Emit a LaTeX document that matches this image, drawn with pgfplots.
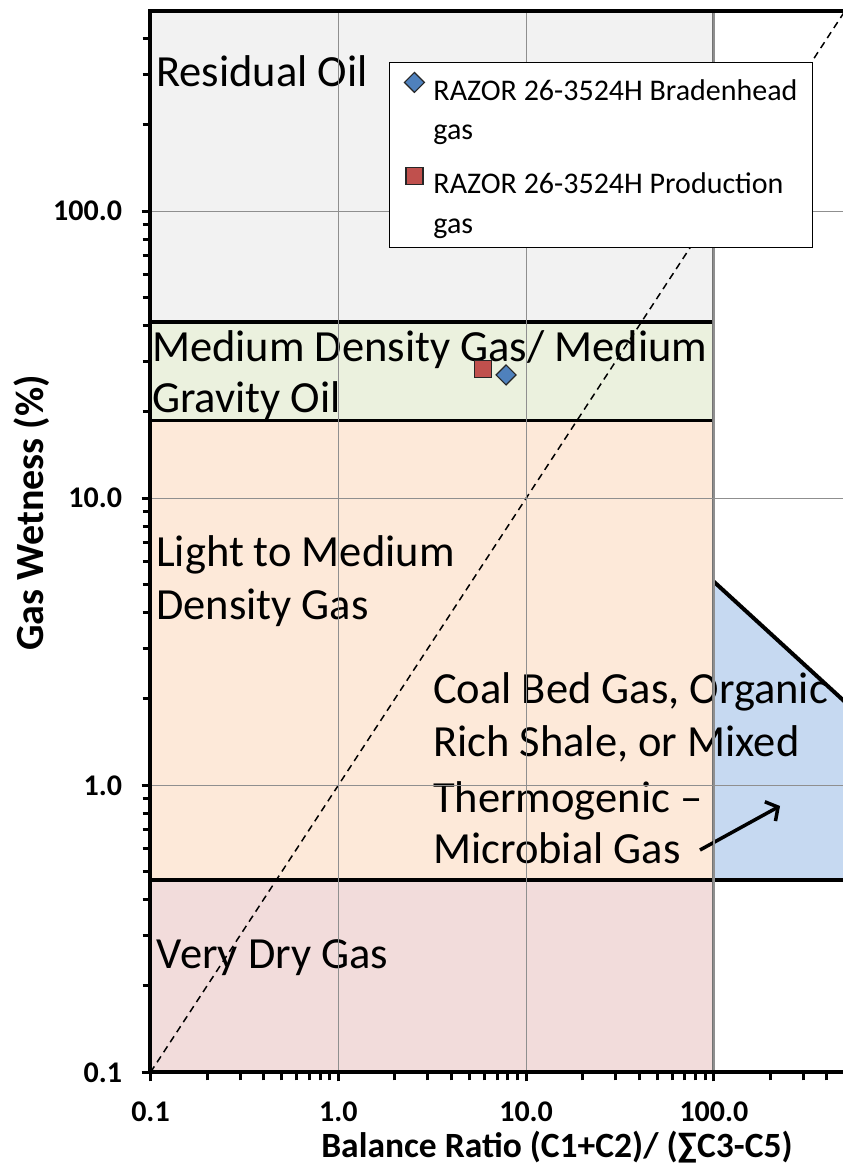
\documentclass[border=0pt]{standalone}
\usepackage{fontspec}
\setmainfont{Carlito}
\usepackage{pgfplots}
\pgfplotsset{compat=1.18}
\usetikzlibrary{arrows.meta}
\definecolor{resid}{HTML}{F2F2F2}
\definecolor{medium}{HTML}{EBF1DE}
\definecolor{lightg}{HTML}{FDE9D9}
\definecolor{dry}{HTML}{F2DCDB}
\definecolor{cbm}{HTML}{C6D9F1}
\definecolor{gridgray}{HTML}{8F8F8F}
\definecolor{bblue}{HTML}{4F81BD}
\definecolor{rred}{HTML}{C0504D}
\pgfplotsset{mylegend/.style={legend image code/.code={\draw[##1] plot coordinates {(0pt,8pt)}; \path[draw=none,fill=none] (0pt,-16pt) -- (0pt,16pt);}}}
\begin{document}
\begin{tikzpicture}
\begin{axis}[
  at={(0pt,0pt)}, anchor=south west,
  scale only axis, width=694.7pt, height=1061.6pt,
  xmode=log, ymode=log, xmin=0.1, xmax=500, ymin=0.1, ymax=500,
  axis on top,
  axis line style={line width=4pt, black},
  xtick={0.1,1,10,100}, xticklabels={0.1,1.0,10.0,100.0},
  ytick={0.1,1,10,100}, yticklabels={0.1,1.0,10.0,100.0},
  minor xtick={0.2,0.3,0.4,0.5,0.6,0.7,0.8,0.9,2,3,4,5,6,7,8,9,20,30,40,50,60,70,80,90,200,300,400},
  minor ytick={0.2,0.3,0.4,0.5,0.6,0.7,0.8,0.9,2,3,4,5,6,7,8,9,20,30,40,50,60,70,80,90,200,300,400},
  tick pos=left,
  tick align=outside,
  major tick length=9pt, minor tick length=8pt,
  tick style={line width=3pt, black},
  grid=major, major grid style={gridgray, line width=1.2pt},
  ticklabel style={font=\fontsize{30}{36}\selectfont\bfseries},
  xticklabel style={yshift=-17pt},
  yticklabel style={xshift=-16pt},
  /pgf/number format/assume math mode=true,
  xlabel={Balance Ratio (C1+C2)/ (∑C3-C5)},
  ylabel={Gas Wetness (\%)},
  xlabel style={font=\fontsize{35.5}{42}\selectfont\bfseries, at={(axis description cs:0.5851,-0.0798)}, anchor=base, inner sep=0pt},
  ylabel style={font=\fontsize{40}{48}\selectfont\bfseries, at={(axis description cs:-0.1547,0.5268)}, anchor=base, inner sep=0pt},
  legend cell align=left,
  legend style={at={(rel axis cs:0.3433,0.9517)}, anchor=north west, draw=black, line width=1pt, fill=white,
    font=\fontsize{30}{36}\selectfont, inner xsep=15pt, inner ysep=10pt, row sep=0pt, column sep=9pt,
    nodes={inner sep=0pt}},
]
% bands
\addplot[draw=none, fill=resid, forget plot] coordinates {(0.1,41.2) (100,41.2) (100,500) (0.1,500)} -- cycle;
\addplot[draw=none, fill=medium, forget plot] coordinates {(0.1,18.64) (100,18.64) (100,41.2) (0.1,41.2)} -- cycle;
\addplot[draw=none, fill=lightg, forget plot] coordinates {(0.1,0.4685) (100,0.4685) (100,18.64) (0.1,18.64)} -- cycle;
\addplot[draw=none, fill=dry, forget plot] coordinates {(0.1,0.1) (100,0.1) (100,0.4685) (0.1,0.4685)} -- cycle;
\addplot[draw=none, fill=cbm, forget plot] coordinates {(100,0.4685) (100,5.12) (500,1.95) (500,0.4685)} -- cycle;
% labels
\node[anchor=base west, inner sep=0pt, font=\fontsize{44.5}{52}\selectfont] at (axis cs:0.107,271) {Residual Oil};
\node[anchor=base west, inner sep=0pt, font=\fontsize{44.5}{52}\selectfont] at (axis cs:0.1018,29.85) {Medium Density Gas/ Medium};
\node[anchor=base west, inner sep=0pt, font=\fontsize{44.5}{52}\selectfont] at (axis cs:0.1018,19.83) {Gravity Oil};
\node[anchor=base west, inner sep=0pt, font=\fontsize{44.5}{52}\selectfont] at (axis cs:0.107,5.763) {Light to Medium};
\node[anchor=base west, inner sep=0pt, font=\fontsize{44.5}{52}\selectfont] at (axis cs:0.107,3.767) {Density Gas};
\node[anchor=base west, inner sep=0pt, font=\fontsize{44.5}{52}\selectfont] at (axis cs:0.108,0.2291) {Very Dry Gas};
\node[anchor=base west, inner sep=0pt, font=\fontsize{44.5}{52}\selectfont] at (axis cs:3.194,1.935) {Coal Bed Gas, Organic};
\node[anchor=base west, inner sep=0pt, font=\fontsize{44.5}{52}\selectfont] at (axis cs:3.194,1.255) {Rich Shale, or Mixed};
\node[anchor=base west, inner sep=0pt, font=\fontsize{44.5}{52}\selectfont] at (axis cs:3.194,0.807) {Thermogenic –};
\node[anchor=base west, inner sep=0pt, font=\fontsize{44.5}{52}\selectfont] at (axis cs:3.194,0.536) {Microbial Gas};
% boundary lines
\addplot[black, line width=3.5pt, forget plot] coordinates {(0.1,41.2) (100,41.2)};
\addplot[black, line width=3.5pt, forget plot] coordinates {(0.1,18.64) (100,18.64)};
\addplot[black, line width=3.5pt, forget plot] coordinates {(0.1,0.4685) (500,0.4685)};
\addplot[black, line width=4pt, forget plot] coordinates {(100,5.12) (500,1.95)};
\addplot[black!55, line width=3pt, forget plot] coordinates {(100,0.1) (100,500)};
\addplot[black, line width=1.5pt, dash pattern=on 7pt off 5pt, forget plot] coordinates {(0.1,0.1) (500,500)};
\addplot[black, line width=3.5pt, -{Straight Barb[length=9pt, width=22pt, line width=3.5pt]}, forget plot] coordinates {(84.3,0.595) (224.9,0.847)};
% data
\addplot[only marks, mark=square*, mark size=7.07pt, mark options={rotate=45, fill=bblue, draw=black!85, line width=1.2pt}, mylegend] coordinates {(7.82,26.9)};
\addlegendentry{RAZOR 26-3524H Bradenhead}
\addlegendimage{legend image code/.code={\path[draw=none,fill=none] (0pt,-34pt) -- (0pt,27pt);}}
\addlegendentry{gas}
\addplot[only marks, mark=square*, mark size=8.5pt, mark options={fill=rred, draw=black!85, line width=1.2pt}, mylegend] coordinates {(5.89,28.2)};
\addlegendentry{RAZOR 26-3524H Production}
\addlegendimage{legend image code/.code={\path[draw=none,fill=none] (0pt,-11pt) -- (0pt,27pt);}}
\addlegendentry{gas}
\end{axis}
\pgfresetboundingbox
\path[use as bounding box] (-150.5pt,-92.7pt) rectangle (692.5pt,1072.3pt);
\end{tikzpicture}
\end{document}
